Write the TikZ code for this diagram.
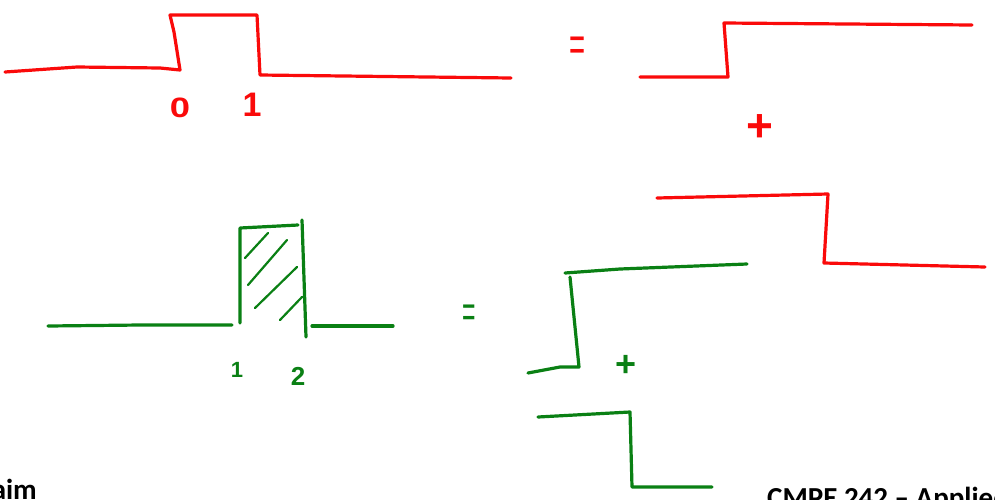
\documentclass[tikz,border=0pt]{standalone}
\usepackage{fontspec}
\setmainfont{Carlito}
\newfontfamily\markfont{Liberation Sans}
\definecolor{inkred}{RGB}{250,10,10}
\definecolor{inkgreen}{RGB}{10,128,20}
\begin{document}
\begin{tikzpicture}[x=1pt,y=-1pt,
  redink/.style={draw=inkred,line width=3.2pt,line cap=round,line join=round},
  greenink/.style={draw=inkgreen,line width=3.2pt,line cap=round,line join=round},
  hatch/.style={draw=inkgreen,line width=2.2pt,line cap=round},
  redlabel/.style={text=inkred,inner sep=0pt,font=\markfont},
  greenlabel/.style={text=inkgreen,inner sep=0pt,font=\markfont},
  foot/.style={inner sep=0pt,font=\fontsize{29}{32}\selectfont\bfseries}]
\useasboundingbox (0,0) rectangle (995,499);
\clip (0,0) rectangle (995,499);
\fill[white] (0,0) rectangle (995,499);

% ---- red: rectangular pulse from 0 to 1
\coordinate (r0) at (5,72);
\coordinate (r1) at (511,78);
\draw[redink] (r0) -- (77,67) -- (160,68) -- (180,70) -- (174,32) -- (170,15)
  -- (257,15) -- (260,75) -- (r1);
\node[redlabel,font=\markfont\bfseries\fontsize{28}{30}\selectfont] (lab0) at (180,108) {\scalebox{1.3}[1]{0}};
\node[redlabel,font=\markfont\bfseries\fontsize{34}{36}\selectfont] (lab1) at (252,105) {1};

% red equals
\node[redlabel] (req) at (578,49) {\scalebox{0.55}[1]{\fontsize{50}{50}\selectfont =}};

% red step up
\coordinate (su0) at (640,77);
\coordinate (su1) at (972,25);
\draw[redink] (su0) -- (728,77) -- (724,23) -- (su1);

% red plus
\node[redlabel,font=\markfont\bfseries\fontsize{46}{46}\selectfont] (rplus) at (760,128) {+};

% red step down
\coordinate (sd0) at (657,198);
\coordinate (sd1) at (985,267);
\draw[redink] (sd0) -- (828,194) -- (824,263) -- (sd1);

% ---- green: pulse from 1 to 2
\coordinate (g0) at (48,326);
\coordinate (g1) at (232,325);
\draw[greenink] (g0) -- (140,325) -- (g1);
\draw[greenink] (240,323) -- (240,228) -- (298,225);
\draw[greenink] (302,220) -- (306,337);
\draw[greenink] (312,326) -- (393,326);
% hatching
\draw[hatch] (245,258) -- (268,233);
\draw[hatch] (248,285) -- (287,240);
\draw[hatch] (255,308) -- (297,267);
\draw[hatch] (280,320) -- (302,297);
\node[greenlabel,font=\markfont\bfseries\fontsize{22}{24}\selectfont] (glab1) at (237,370) {1};
\node[greenlabel,font=\markfont\bfseries\fontsize{26}{28}\selectfont] (glab2) at (298,376) {2};

% green equals
\node[greenlabel] (geq) at (469,316) {\scalebox{0.5}[1]{\fontsize{46}{46}\selectfont =}};

% green step up
\coordinate (gu0) at (528,373);
\coordinate (gu1) at (747,264);
\draw[greenink] (gu0) -- (560,367) -- (579,367) -- (570,277);
\draw[greenink] (565,273) -- (620,269) -- (gu1);

% green plus
\node[greenlabel,font=\markfont\bfseries\fontsize{36}{36}\selectfont] (gplus) at (626,366) {+};

% green step down
\coordinate (gd0) at (538,417);
\coordinate (gd1) at (712,487);
\draw[greenink] (gd0) -- (630,412) -- (632,487) -- (gd1);

% ---- footer texts (cut off by the page edge, as in the reference)
\node[foot,anchor=base east] (foot1) at (37,499) {aim};
\node[foot,anchor=base west] (foot2) at (767,507) {CMPE 242 -- Applied};
\end{tikzpicture}
\end{document}
